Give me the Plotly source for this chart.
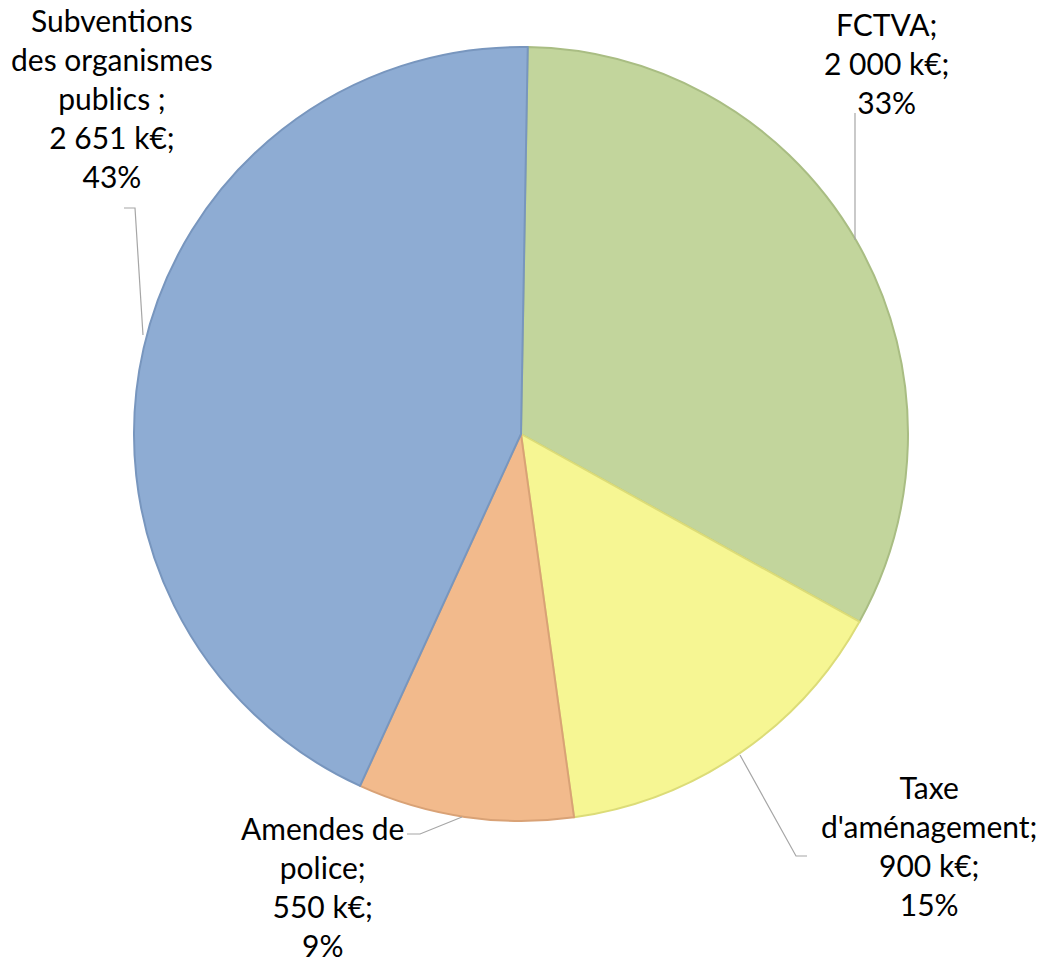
import plotly.graph_objects as go

W, H = 1043, 965

labels = ["FCTVA", "Taxe d'aménagement", "Amendes de police", "Subventions des organismes publics"]
label_lines = ["FCTVA;", "Taxe<br>d'aménagement;", "Amendes de<br>police;", "Subventions<br>des organismes<br>publics ;"]
values = [2000, 900, 550, 2651]
colors = ["#C2D59C", "#F6F693", "#F2BA8C", "#8EACD3"]
edge_colors = ["#A9BD83", "#DCDC78", "#D9A276", "#7896BE"]

# label block centres (pixels) and leader line paths (pixels)
label_pos = [(886, 63), (929, 845), (322, 886), (112, 98)]
leaders = [
    [(855, 113), (855, 240)],
    [(740, 755), (796, 856), (807, 856)],
    [(462, 817), (420, 834), (407, 834)],
    [(124, 208), (135, 208), (143, 335)],
]

total = sum(values)


def fmt(v):
    return f"{v:,}".replace(",", " ") + " k€"


def px(x, y):
    return x / W, 1 - y / H


cx, cy, r = 521, 434, 387
x0, y0 = px(cx - r, cy + r)
x1, y1 = px(cx + r, cy - r)

fig = go.Figure(
    go.Pie(
        labels=labels,
        values=values,
        sort=False,
        direction="clockwise",
        rotation=1,
        marker=dict(colors=colors, line=dict(color=edge_colors, width=2)),
        textinfo="none",
        hoverinfo="label+value+percent",
        domain=dict(x=[x0, x1], y=[y0, y1]),
        showlegend=False,
    )
)

annotations = []
for lab, v, (lx, ly) in zip(label_lines, values, label_pos):
    pct = round(100 * v / total)
    ax, ay = px(lx, ly)
    annotations.append(
        dict(
            text=f"{lab}<br>{fmt(v)};<br>{pct}%",
            x=ax, y=ay, xref="paper", yref="paper",
            xanchor="center", yanchor="middle", showarrow=False,
            font=dict(family="Lato, Carlito, sans-serif", size=30, color="#000000"),
            align="center",
        )
    )

shapes = []
for pts in leaders:
    path = ""
    for i, (x, y) in enumerate(pts):
        a, b = px(x, y)
        path += ("M" if i == 0 else "L") + f"{a},{b} "
    shapes.append(dict(type="path", path=path.strip(), xref="paper", yref="paper",
                       line=dict(color="#A6A6A6", width=1.2)))

fig.update_layout(
    width=W, height=H,
    margin=dict(l=0, r=0, t=0, b=0),
    paper_bgcolor="white",
    plot_bgcolor="white",
    annotations=annotations,
    shapes=shapes,
)

fig.write_html("out.html", config={"displayModeBar": False},
               post_script="document.body.style.margin='0';")
